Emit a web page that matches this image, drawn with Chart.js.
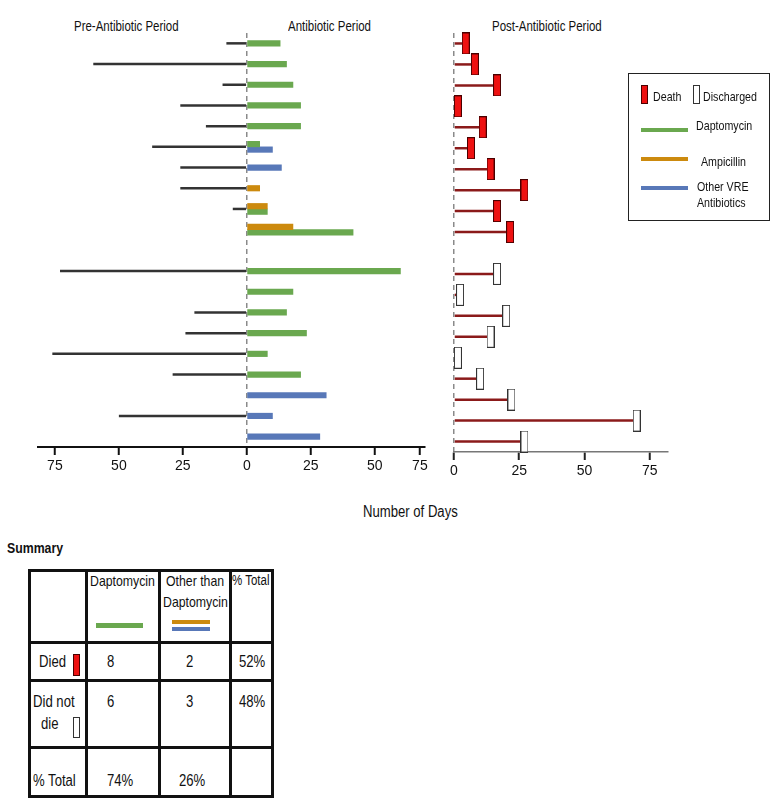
<!DOCTYPE html>
<html><head><meta charset="utf-8">
<script src="https://cdn.jsdelivr.net/npm/chart.js@4"></script>
<style>
body{margin:0;background:#fff;width:771px;height:800px;position:relative;overflow:hidden;font-family:'Liberation Sans',Arial,sans-serif;color:#111}
.a{position:absolute;white-space:nowrap;line-height:1;transform:scaleX(0.82);transform-origin:0 0}
.box{position:absolute;box-sizing:border-box}
canvas{position:absolute}
</style></head><body>
<div class="a" style="left:74px;top:19px;font-size:14px">Pre-Antibiotic Period</div>
<div class="a" style="left:288px;top:19px;font-size:14px">Antibiotic Period</div>
<div class="a" style="left:492px;top:19px;font-size:14px">Post-Antibiotic Period</div>
<canvas id="left" width="440" height="480" style="left:0;top:0"></canvas>
<canvas id="right" width="240" height="485" style="left:440px;top:0"></canvas>
<div class="a" style="left:363px;top:504px;font-size:16px">Number of Days</div>

<!-- legend -->
<div class="box" style="left:628px;top:73px;width:142px;height:148px;border:1px solid #222"></div>
<div class="box" style="left:641px;top:85px;width:7px;height:19px;background:#ee1111;border:1px solid #4a0000"></div>
<div class="a" style="left:653px;top:90px;font-size:13px">Death</div>
<div class="box" style="left:693px;top:85px;width:7px;height:19px;background:#fff;border:1px solid #333"></div>
<div class="a" style="left:703px;top:90px;font-size:13px">Discharged</div>
<div class="box" style="left:641px;top:128px;width:47px;height:4px;background:#6aa84f"></div>
<div class="a" style="left:696px;top:119px;font-size:13px">Daptomycin</div>
<div class="box" style="left:641px;top:157px;width:47px;height:4px;background:#cc8a0e"></div>
<div class="a" style="left:701px;top:155px;font-size:13px">Ampicillin</div>
<div class="box" style="left:641px;top:186px;width:47px;height:4px;background:#5878b8"></div>
<div class="a" style="left:697px;top:180px;font-size:13px">Other VRE</div>
<div class="a" style="left:697px;top:196px;font-size:13px">Antibiotics</div>

<!-- summary table -->
<div class="a" style="left:7px;top:540px;font-size:15px;font-weight:bold">Summary</div>
<div class="box" style="left:28px;top:569px;width:246px;height:229px;border:3px solid #111"></div>
<div class="box" style="left:85px;top:569px;width:3px;height:229px;background:#111"></div>
<div class="box" style="left:158px;top:569px;width:3px;height:229px;background:#111"></div>
<div class="box" style="left:229px;top:569px;width:3px;height:229px;background:#111"></div>
<div class="box" style="left:28px;top:641px;width:246px;height:3px;background:#111"></div>
<div class="box" style="left:28px;top:679px;width:246px;height:3px;background:#111"></div>
<div class="box" style="left:28px;top:746px;width:246px;height:3px;background:#111"></div>
<div class="a" style="left:90px;top:573px;font-size:15px">Daptomycin</div>
<div class="box" style="left:96px;top:623px;width:47px;height:5px;background:#6aa84f"></div>
<div class="a" style="left:166px;top:573px;font-size:15px">Other than</div>
<div class="a" style="left:163px;top:594px;font-size:15px">Daptomycin</div>
<div class="box" style="left:172px;top:620px;width:38px;height:4px;background:#cc8a0e"></div>
<div class="box" style="left:172px;top:627px;width:38px;height:4px;background:#5878b8"></div>
<div class="a" style="left:232px;top:573px;font-size:14px">% Total</div>
<div class="a" style="left:39px;top:654px;font-size:16px">Died</div>
<div class="box" style="left:73px;top:654px;width:7px;height:22px;background:#ee1111;border:1px solid #4a0000"></div>
<div class="a" style="left:107px;top:654px;font-size:16px">8</div>
<div class="a" style="left:186px;top:654px;font-size:16px">2</div>
<div class="a" style="left:239px;top:654px;font-size:16px">52%</div>
<div class="a" style="left:33px;top:694px;font-size:16px">Did not</div>
<div class="a" style="left:41px;top:716px;font-size:16px">die</div>
<div class="box" style="left:73px;top:717px;width:7px;height:21px;background:#fff;border:1px solid #333"></div>
<div class="a" style="left:107px;top:694px;font-size:16px">6</div>
<div class="a" style="left:186px;top:694px;font-size:16px">3</div>
<div class="a" style="left:239px;top:694px;font-size:16px">48%</div>
<div class="a" style="left:33px;top:773px;font-size:16px">% Total</div>
<div class="a" style="left:107px;top:773px;font-size:16px">74%</div>
<div class="a" style="left:179px;top:773px;font-size:16px">26%</div>

<script>
// ---- data (days) ----
// patients who died (top group) then patients discharged (bottom group)
const diedPatients = ['D1','D2','D3','D4','D5','D6','D7','D8','D9','D10'];
const dischargedPatients = ['S1','S2','S3','S4','S5','S6','S7','S8','S9'];
// pre-antibiotic days (null = none)
const preDied = [8, 60, 9.5, 26, 16, 37, 26, 26, 5.5, null];
const preDischarged = [73, null, 20.5, 24, 76, 29, null, 50, null];
// antibiotic days
const daptoDied = [13, 15.5, 18, 21, 21, 5, null, null, 8, 41.5];
const daptoDischarged = [60, 18, 15.5, 23.3, 8, 21, null, null, null];
const ampDied = [null, null, null, null, null, null, null, 5, 8, 18];
const ampDischarged = [null, null, null, null, null, null, null, null, null];
const otherDied = [null, null, null, null, null, 10, 13.5, null, null, null];
const otherDischarged = [null, null, null, null, null, null, 31, 10, 28.5];
// post-antibiotic days
const postDied = [4.5, 8, 16.5, 1.5, 11, 6.5, 14, 27, 16.5, 21.5];
const postDischarged = [16.5, 2.3, 20, 14, 1.5, 10, 22, 70, 27];
// axis ticks
const leftTickValues = [-75, -50, -25, 0, 25, 50, 67.6];
const leftTickLabels = ['75', '50', '25', '0', '25', '50', '75'];
const rightTickValues = [0, 25, 50, 75];

// ---- build ----
const rows = [...diedPatients, '', ...dischargedPatients];
const join = (a, b) => [...a, null, ...b];
const pre = join(preDied, preDischarged).map(v => v == null ? null : [-v, 0]);
const seg = arr => arr.map(v => v == null ? null : [0, v]);
const dapto = seg(join(daptoDied, daptoDischarged));
const amp = seg(join(ampDied, ampDischarged));
const other = seg(join(otherDied, otherDischarged));

const FONT = "'Liberation Sans',Arial,sans-serif";
const GREEN = '#6aa84f', ORANGE = '#cc8a0e', BLUE = '#5878b8';

function zeroGrid(c) { return c.tick && c.tick.value === 0 ? '#8a8a8a' : 'rgba(0,0,0,0)'; }

new Chart(document.getElementById('left'), {
  type: 'bar',
  data: {
    labels: rows,
    datasets: [
      { label: 'Pre', data: pre, backgroundColor: '#333', grouped: false, maxBarThickness: 2.5, borderWidth: 0 },
      { label: 'Ampicillin', data: amp, backgroundColor: ORANGE, barThickness: 5.5, skipNull: true, borderWidth: 0 },
      { label: 'Daptomycin', data: dapto, backgroundColor: GREEN, barThickness: 5.5, skipNull: true, borderWidth: 0 },
      { label: 'Other VRE Antibiotics', data: other, backgroundColor: BLUE, barThickness: 5.5, skipNull: true, borderWidth: 0 }
    ]
  },
  options: {
    indexAxis: 'y', responsive: false, animation: false,
    layout: { padding: { left: 38, right: 15, top: 33, bottom: 0 } },
    plugins: { legend: { display: false }, tooltip: { enabled: false } },
    scales: {
      y: { type: 'category', display: false, offset: true },
      x: {
        type: 'linear', min: -81.6, max: 69.6,
        afterBuildTicks: s => { s.ticks = leftTickValues.map(v => ({ value: v })); },
        afterFit: s => { s.height = 33; },
        ticks: { autoSkip: false, maxRotation: 0, padding: 3, color: '#111', font: { family: FONT, size: 14 },
          callback: (v, i) => leftTickLabels[i] },
        grid: { color: zeroGrid, lineWidth: 1.5, tickColor: '#111', tickLength: 8, tickWidth: 2 },
        border: { display: true, color: '#111', width: 2, dash: [5, 4] }
      }
    }
  }
});

function marker(fill, stroke) {
  const c = document.createElement('canvas');
  c.width = 8; c.height = 22;
  const g = c.getContext('2d');
  g.fillStyle = fill; g.fillRect(0.5, 0.5, 7, 21);
  g.strokeStyle = stroke; g.lineWidth = 1; g.strokeRect(0.5, 0.5, 7, 21);
  return c;
}

const postAll = join(postDied, postDischarged);
new Chart(document.getElementById('right'), {
  type: 'bar',
  data: {
    labels: rows,
    datasets: [
      { type: 'scatter', label: 'Death', data: diedPatients.map((p, i) => ({ x: postDied[i], y: p })),
        pointStyle: marker('#ee1111', '#4a0000'), pointRadius: 5, order: 0 },
      { type: 'scatter', label: 'Discharged', data: dischargedPatients.map((p, i) => ({ x: postDischarged[i], y: p })),
        pointStyle: marker('#ffffff', '#333333'), pointRadius: 5, order: 0 },
      { label: 'Post', data: seg(postAll), backgroundColor: '#8b1a1a', grouped: false, maxBarThickness: 2.5, borderWidth: 0, order: 1 }
    ]
  },
  options: {
    indexAxis: 'y', responsive: false, animation: false,
    layout: { padding: { left: 14, right: 12, top: 33, bottom: 0 } },
    plugins: { legend: { display: false }, tooltip: { enabled: false } },
    scales: {
      y: { type: 'category', display: false, offset: true },
      x: {
        type: 'linear', min: 0, max: 82,
        afterBuildTicks: s => { s.ticks = rightTickValues.map(v => ({ value: v })); },
        afterFit: s => { s.height = 33; },
        ticks: { autoSkip: false, maxRotation: 0, padding: 3, color: '#111', font: { family: FONT, size: 14 } },
        grid: { color: zeroGrid, lineWidth: 1.5, tickColor: '#222', tickLength: 8, tickWidth: 2 },
        border: { display: true, color: '#777', width: 1.5, dash: [5, 4] }
      }
    }
  }
});
</script>
</body></html>
